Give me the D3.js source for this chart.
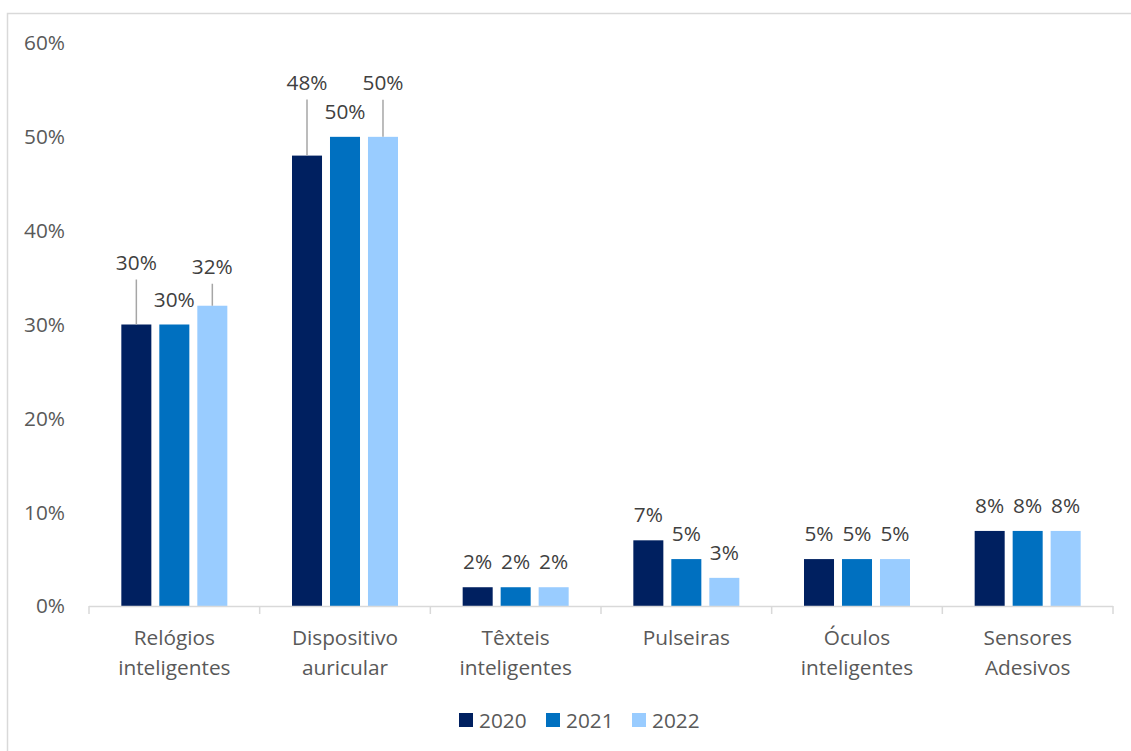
<!DOCTYPE html>
<html>
<head>
<meta charset="utf-8">
<script src="https://cdn.jsdelivr.net/npm/d3@7"></script>
<style>
  body { margin: 0; background: #fff; }
  svg { display: block; font-family: "Open Sans", "Noto Sans", sans-serif; }
</style>
</head>
<body>
<svg id="chart" width="1131" height="751"></svg>
<script>
// chart data
const categories = [
    ['Relógios', 'inteligentes'],
    ['Dispositivo', 'auricular'],
    ['Têxteis', 'inteligentes'],
    ['Pulseiras'],
    ['Óculos', 'inteligentes'],
    ['Sensores', 'Adesivos']
];
const years = ['2020', '2021', '2022'];
const values2020 = [30, 48, 2, 7, 5, 8];
const values2021 = [30, 50, 2, 5, 5, 8];
const values2022 = [32, 50, 2, 3, 5, 8];
const yTicks = [0, 10, 20, 30, 40, 50, 60];

// some labels were dragged up in the original, with a leader line
const labelLift = { '0|2020': 37, '0|2022': 14, '1|2020': 48, '1|2022': 29 };

const seriesValues = { '2020': values2020, '2021': values2021, '2022': values2022 };
const colors = { '2020': '#002060', '2021': '#0070C0', '2022': '#99CCFF' };

let svg = d3.select('#chart'),
    width = 1131,
    height = 751,
    fontSize = '20.8px';

// outer frame
svg.append('rect')
    .attr('x', 7.5).attr('y', 13.5)
    .attr('width', width).attr('height', height)
    .attr('fill', 'none')
    .attr('stroke', '#d9d9d9')
    .attr('stroke-width', 1.5);

let x0 = d3.scaleBand()
    .domain(d3.range(categories.length))
    .range([89, 1113]);

let x1 = d3.scaleBand()
    .domain(years)
    .range([0, 106])
    .paddingInner(0.21);

let groupOffset = (x0.bandwidth() - 106) / 2;

let y = d3.scaleLinear()
    .domain([0, 60])
    .range([606, 43]);

// y axis labels
svg.append('g')
    .selectAll('text')
    .data(yTicks)
    .enter().append('text')
    .attr('x', 65)
    .attr('y', d => y(d))
    .attr('dy', '0.36em')
    .attr('text-anchor', 'end')
    .attr('fill', '#595959')
    .style('font-size', fontSize)
    .text(d => d + '%');

// bars
let groups = svg.append('g')
    .selectAll('g')
    .data(categories.map((c, i) => i))
    .enter().append('g')
    .attr('transform', d => 'translate(' + (x0(d) + groupOffset) + ',0)');

groups.selectAll('rect')
    .data(i => years.map(yr => ({ i: i, year: yr, v: seriesValues[yr][i] })))
    .enter().append('rect')
    .attr('x', d => x1(d.year))
    .attr('y', d => y(d.v))
    .attr('width', x1.bandwidth())
    .attr('height', d => y(0) - y(d.v))
    .attr('fill', d => colors[d.year]);

// data labels
let labels = groups.selectAll('g.lbl')
    .data(i => years.map(yr => ({ i: i, year: yr, v: seriesValues[yr][i] })))
    .enter().append('g')
    .attr('class', 'lbl');

labels.filter(d => labelLift[d.i + '|' + d.year])
    .append('line')
    .attr('x1', d => x1(d.year) + x1.bandwidth() / 2)
    .attr('x2', d => x1(d.year) + x1.bandwidth() / 2)
    .attr('y1', d => y(d.v) - 18 - labelLift[d.i + '|' + d.year] + 10)
    .attr('y2', d => y(d.v))
    .attr('stroke', '#a6a6a6')
    .attr('stroke-width', 1.5);

labels.append('text')
    .attr('x', d => x1(d.year) + x1.bandwidth() / 2)
    .attr('y', d => y(d.v) - 18 - (labelLift[d.i + '|' + d.year] || 0))
    .attr('text-anchor', 'middle')
    .attr('fill', '#404040')
    .style('font-size', fontSize)
    .text(d => d.v + '%');

// x axis
let axis = svg.append('g');
axis.append('line')
    .attr('x1', x0.range()[0]).attr('x2', x0.range()[1])
    .attr('y1', y(0) + 0.5).attr('y2', y(0) + 0.5)
    .attr('stroke', '#d9d9d9')
    .attr('stroke-width', 1.5);

axis.selectAll('line.tick')
    .data(d3.range(categories.length + 1))
    .enter().append('line')
    .attr('class', 'tick')
    .attr('x1', d => x0.range()[0] + d * x0.step())
    .attr('x2', d => x0.range()[0] + d * x0.step())
    .attr('y1', y(0))
    .attr('y2', y(0) + 8)
    .attr('stroke', '#d9d9d9')
    .attr('stroke-width', 1.5);

let catLabels = axis.selectAll('text')
    .data(categories)
    .enter().append('text')
    .attr('text-anchor', 'middle')
    .attr('fill', '#595959')
    .style('font-size', fontSize);

catLabels.selectAll('tspan')
    .data((d, i) => d.map((line, k) => ({ line: line, k: k, i: i })))
    .enter().append('tspan')
    .attr('x', d => x0(d.i) + x0.bandwidth() / 2)
    .attr('y', d => 645 + d.k * 30)
    .text(d => d.line);

// legend
let legendX = [459, 546, 632];
let legend = svg.selectAll('.legend')
    .data(years)
    .enter().append('g')
    .attr('class', 'legend')
    .attr('transform', (d, i) => 'translate(' + legendX[i] + ',713)');

legend.append('rect')
    .attr('width', 14)
    .attr('height', 14)
    .attr('fill', d => colors[d]);

legend.append('text')
    .attr('x', 20)
    .attr('y', 14.5)
    .attr('fill', '#595959')
    .style('font-size', fontSize)
    .text(d => d);
</script>
</body>
</html>
